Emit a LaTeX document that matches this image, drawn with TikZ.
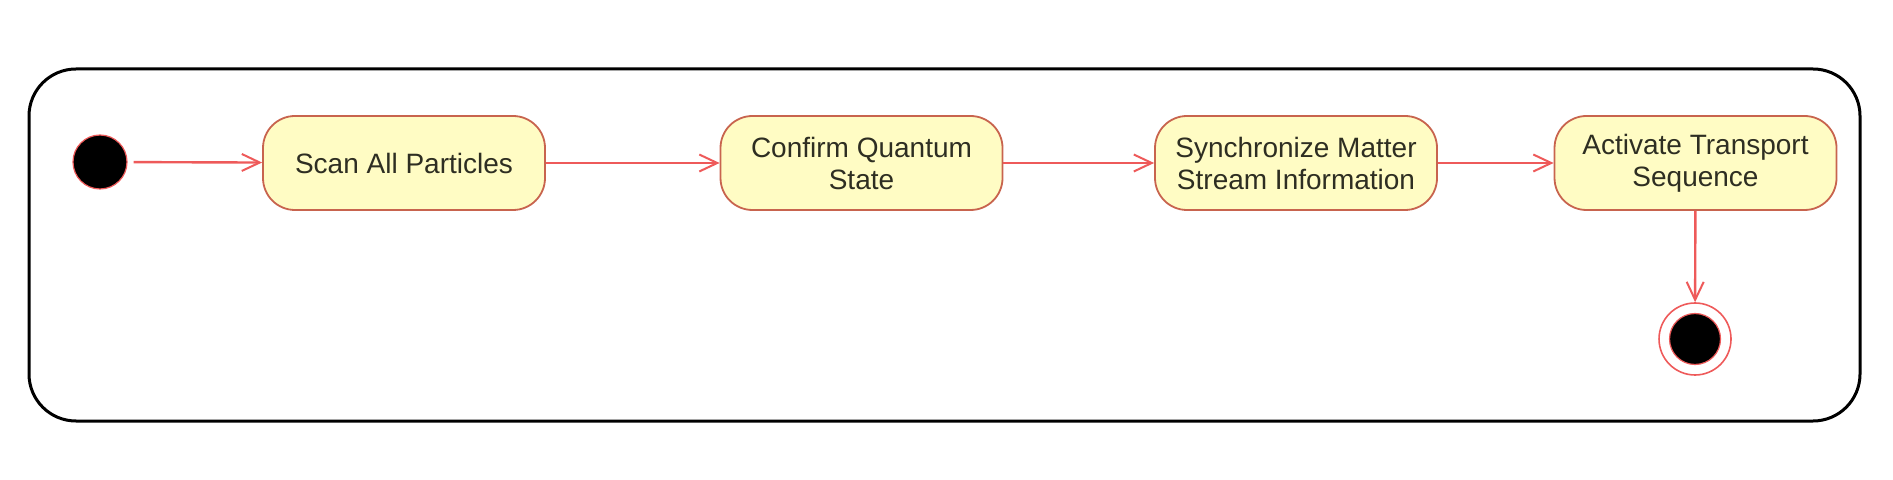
\documentclass[tikz,border=0pt]{standalone}
\usepackage{fontspec}
\setmainfont{Liberation Sans}
\usetikzlibrary{arrows.meta}
\definecolor{boxfill}{HTML}{FFFCC4}
\definecolor{boxline}{HTML}{C8644E}
\definecolor{arrowc}{HTML}{EE5A5A}
\definecolor{txt}{HTML}{2E2E22}
\begin{document}
\begin{tikzpicture}[x=0.5pt,y=-0.5pt,
  statebox/.style={draw=boxline, fill=boxfill, line width=0.9pt, rounded corners=16pt,
    minimum width=141pt, minimum height=47pt, inner sep=0pt, align=center,
    font=\fontsize{14}{16}\selectfont, text=txt},
  flow/.style={draw=arrowc, line width=1.2pt, -{Straight Barb[length=9pt,width=8.5pt,line width=1pt]}},
  startdot/.style={circle, fill=black, draw=arrowc, line width=0.6pt, minimum size=27pt, inner sep=0pt},
  endring/.style={circle, draw=arrowc, line width=0.8pt, minimum size=36pt, inner sep=0pt},
  enddot/.style={circle, fill=black, draw=arrowc, line width=0.6pt, minimum size=25.5pt, inner sep=0pt},
  frame/.style={draw=black, line width=1.5pt, rounded corners=23.5pt}
]
\useasboundingbox (0,0) rectangle (1893,480);
\draw[frame] (29,69) rectangle (1860,421);

\node[startdot] (init) at (100,162) {};
\node[statebox] (s1) at (404,163) {Scan All Particles};
\node[statebox] (s2) at (861.5,163) {Confirm Quantum\\State};
\node[statebox] (s3) at (1296,163) {Synchronize Matter\\Stream Information};
\node[statebox] (s4) at (1695.5,163) {Activate Transport\\Sequence};
\node[endring] (final) at (1695,339) {};
\node[enddot] (finaldot) at (final) {};

\draw[flow, shorten <=3pt] (init) -- (s1);
\draw[flow] (s1) -- (s2);
\draw[flow] (s2) -- (s3);
\draw[flow] (s3) -- (s4);
\draw[flow] (s4) -- (final);
\end{tikzpicture}
\end{document}
